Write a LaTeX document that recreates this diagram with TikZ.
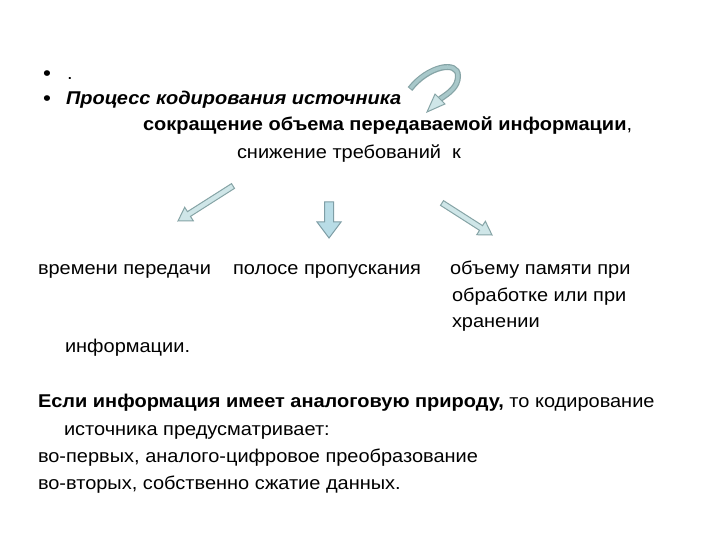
\documentclass[tikz,border=0pt]{standalone}
\usepackage{fontspec}
\setmainfont{Liberation Sans}[FakeStretch=1.08]
\usetikzlibrary{calc}
\definecolor{arrline}{HTML}{86A4A6}
\definecolor{arrfill}{HTML}{CFE6E8}
\definecolor{curvefill}{HTML}{A8C8CA}
\definecolor{midline}{HTML}{7F9EA6}
\definecolor{midfill}{HTML}{B8DCE6}
\tikzset{
  txt/.style={anchor=base west, inner sep=0pt, outer sep=0pt, font=\fontsize{18.5}{22}\selectfont},
  bul/.style={anchor=base west, inner sep=0pt, outer sep=0pt, font=\fontsize{21}{22}\selectfont},
  arrstyle/.style={draw=arrline, fill=arrfill, line width=1pt, line join=miter},
  midstyle/.style={draw=midline, fill=midfill, line width=1pt, line join=miter}
}
\newcommand\blockarr[6]{%
  \path coordinate (tmpC) at ($(#2)!#5!(#1)$);
  \draw[#6] ($(#1)!#3!90:(#2)$) -- ($(tmpC)!#3!90:(#2)$) -- ($(tmpC)!#4!90:(#2)$) -- (#2)
     -- ($(tmpC)!#4!-90:(#2)$) -- ($(tmpC)!#3!-90:(#2)$) -- ($(#1)!#3!-90:(#2)$) -- cycle;}
\begin{document}
\begin{tikzpicture}[x=1pt,y=-1pt]
\useasboundingbox[fill=white] (0,0) rectangle (720,540);

% bullets and text
\node[bul] (b1) at (43,81) {•};
\node[txt] (t1) at (67,80) {.};
\node[bul] (b2) at (43,106) {•};
\node[txt] (t2) at (66,105) {\bfseries\itshape Процесс кодирования источника};
\node[txt] (t3) at (143,131) {\bfseries сокращение объема передаваемой информации\mdseries,};
\node[txt] (t4) at (237,159) {снижение требований\ \ к};

\node[txt] (v1) at (38,274) {времени передачи};
\node[txt] (v2) at (233,274) {полосе пропускания};
\node[txt] (v3) at (450,274) {объему памяти при};
\node[txt] (v4) at (452,301) {обработке или при};
\node[txt] (v5) at (452,327) {хранении};
\node[txt] (v6) at (65,352) {информации.};

\node[txt] (e1) at (38,407) {\bfseries Если информация имеет аналоговую природу,\mdseries\ то кодирование};
\node[txt] (e2) at (64,435) {источника предусматривает:};
\node[txt] (e3) at (38,462) {во-первых, аналого-цифровое преобразование};
\node[txt] (e4) at (38,489) {во-вторых, собственно сжатие данных.};

% curved arrow
\coordinate (cs) at (410,89);
\coordinate (ce) at (440,99);
\coordinate (ct) at (427,112);
\draw[arrline, line width=6pt] (cs) .. controls (428,66) and (458,60) .. (458,76) .. controls (458,87) and (449,93) .. (ce);
\draw[curvefill, line width=3.5pt, shorten <=1pt] (cs) .. controls (428,66) and (458,60) .. (458,76) .. controls (458,87) and (449,93) .. (ce);
\draw[arrstyle] ($(ce)!7pt!90:(ct)$) -- (ct) -- ($(ce)!7pt!-90:(ct)$) -- cycle;

% three arrows
\coordinate (la) at (233,186);
\coordinate (lb) at (178,221);
\coordinate (ma) at (329,202);
\coordinate (mb) at (329,238);
\coordinate (ra) at (442,203);
\coordinate (rb) at (492,235);
\blockarr{la}{lb}{2.8pt}{8pt}{13pt}{arrstyle}
\blockarr{ma}{mb}{4.5pt}{12pt}{16pt}{midstyle}
\blockarr{ra}{rb}{2.8pt}{8pt}{13pt}{arrstyle}
\end{tikzpicture}
\end{document}
